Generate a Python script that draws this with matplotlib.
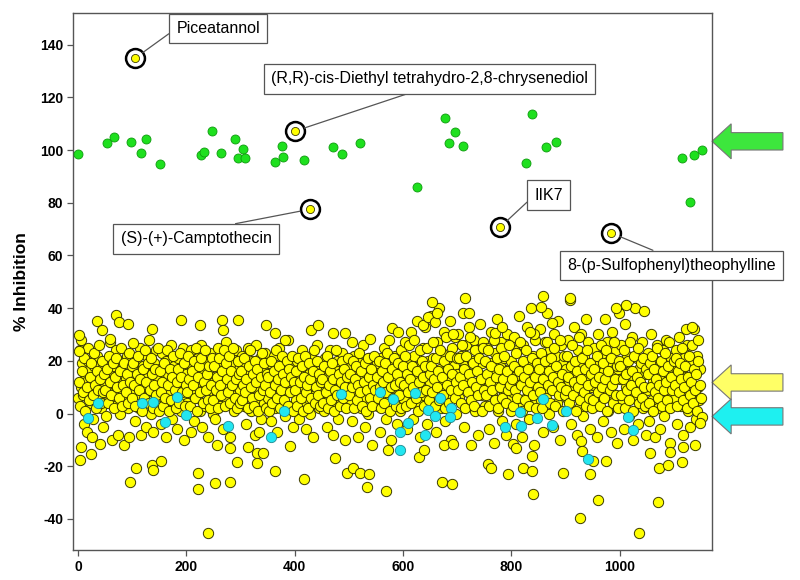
import numpy as np
import matplotlib
matplotlib.use("Agg")
from matplotlib import pyplot as plt
from matplotlib.patches import FancyArrow
from matplotlib.transforms import blended_transform_factory

plt.rcParams['font.family'] = ['Liberation Sans', 'DejaVu Sans']
plt.rcParams['axes.unicode_minus'] = False

# compounds in the main band (yellow), one line per block of ~50 compounds
band_x = [1, 3, 5, 6, 8, 10, 12, 14, 15, 17, 19, 21, 23, 24, 26, 28, 30, 32, 34, 36, 38, 41, 43, 45, 47, 49,
          51, 52, 54, 56, 58, 60, 61, 63, 65, 67, 68, 70, 72, 74, 75, 77, 79, 81, 83, 85, 87, 88, 90, 92, 94, 96, 98,
          101, 103, 105, 107, 108, 110, 112, 114, 116, 117, 119, 121, 123, 125, 127, 128, 130, 132, 134, 136, 138, 140, 142, 144, 146, 148,
          150, 152, 154, 156, 158, 160, 162, 163, 165, 167, 169, 171, 173, 175, 177, 178, 180, 182, 184, 186, 188, 190, 192, 194, 196, 198,
          200, 202, 204, 206, 208, 209, 211, 213, 215, 217, 219, 221, 223, 225, 227, 229, 231, 233, 235, 237, 239, 241, 243, 245, 247, 249,
          251, 253, 255, 257, 259, 261, 263, 265, 267, 268, 270, 272, 274, 276, 278, 280, 282, 284, 286, 288, 290, 292, 294, 296, 298,
          300, 302, 304, 306, 308, 310, 312, 314, 316, 318, 320, 322, 324, 326, 328, 330, 332, 334, 336, 338, 340, 342, 344, 346, 348,
          350, 352, 354, 356, 358, 360, 362, 364, 366, 368, 370, 372, 374, 376, 378, 380, 382, 384, 386, 388, 390, 392, 394, 396, 398,
          400, 402, 404, 406, 408, 410, 412, 414, 416, 418, 420, 422, 424, 426, 428, 430, 432, 434, 436, 438, 440, 442, 444, 446, 448,
          450, 452, 454, 456, 458, 460, 462, 464, 466, 468, 470, 472, 474, 476, 478, 480, 482, 484, 486, 488, 490, 492, 494, 496, 498,
          500, 502, 504, 506, 508, 510, 512, 514, 516, 518, 520, 522, 524, 526, 528, 530, 532, 534, 536, 538, 540, 542, 544, 546, 548,
          550, 552, 554, 556, 558, 560, 562, 564, 566, 568, 570, 572, 574, 576, 578, 580, 582, 584, 586, 588, 590, 592, 594, 596, 598,
          600, 602, 604, 606, 608, 610, 612, 614, 616, 618, 620, 622, 624, 626, 628, 630, 632, 634, 636, 638, 640, 642, 644, 646, 648,
          650, 652, 654, 656, 658, 660, 662, 664, 666, 668, 670, 672, 674, 676, 678, 680, 682, 684, 686, 688, 690, 692, 694, 696, 698,
          700, 702, 704, 706, 708, 710, 712, 714, 716, 718, 720, 722, 724, 726, 728, 730, 732, 734, 736, 738, 740, 742, 744, 746, 748,
          750, 752, 754, 756, 758, 760, 762, 764, 766, 768, 770, 772, 774, 776, 778, 780, 782, 784, 786, 788, 790, 792, 794, 796, 798,
          800, 802, 804, 806, 808, 810, 812, 814, 816, 818, 820, 822, 824, 826, 828, 830, 832, 834, 836, 838, 840, 842, 844, 846, 848,
          850, 852, 854, 856, 858, 860, 862, 864, 866, 868, 870, 872, 874, 876, 878, 880, 882, 884, 886, 888, 890, 892, 894, 896, 898,
          900, 902, 904, 906, 908, 910, 912, 914, 916, 918, 920, 922, 924, 926, 928, 930, 932, 934, 936, 938, 940, 942, 944, 946, 948,
          950, 952, 954, 956, 958, 960, 962, 964, 966, 968, 970, 972, 974, 976, 978, 980, 982, 984, 986, 988, 990, 992, 994, 996, 998,
          1000, 1002, 1004, 1006, 1008, 1010, 1012, 1014, 1016, 1018, 1020, 1022, 1024, 1026, 1028, 1030, 1032, 1034, 1036, 1038, 1040, 1042, 1044, 1046, 1048,
          1050, 1052, 1054, 1056, 1058, 1060, 1062, 1064, 1066, 1068, 1070, 1072, 1074, 1076, 1078, 1080, 1082, 1084, 1086, 1088, 1090, 1092, 1094, 1096, 1098,
          1100, 1102, 1104, 1106, 1108, 1110, 1112, 1114, 1116, 1118, 1120, 1122, 1124, 1126, 1128, 1130, 1132, 1134, 1136, 1138, 1140, 1142, 1144, 1146, 1148]
band_y = [6, 24, 10, 28, 19, 7, -4, 15, 12, -7, 20, 9, 17, 4, 13, -2, 18, 8, 11, 22, 6, 14, 2, 17, -5, 10,
          20, -1, 12, 16, 5, 27, 9, -10, 18, 3, 11, 24, 7, -8, 14, 0, 20, 9, 16, -12, 5, 13, 22, 2, -9, 17, 8,
          14, 8, -3, 20, 11, 16, 2, 25, 7, -8, 13, 18, 10, -5, 22, 5, 15, 28, 0, 12, -7, 19, 9, 24, 3, 13,
          10, 17, -4, 23, 6, 13, -9, 20, 2, 15, 9, 26, -2, 11, 18, 4, 14, -6, 21, 8, 12, 1, 17, 25, -10, 7,
          15, 4, 19, 10, -7, 24, 8, 13, -3, 17, 6, 21, 12, 1, 26, -5, 9, 16, 3, 19, 11, -9, 23, 7, 14, 0,
          12, -2, 18, 7, 25, 14, 3, 20, 9, -6, 16, 11, 27, 5, 15, -9, 22, 8, 13, 1, 19, 24, 6, 10, 17,
          9, 22, 14, 3, 18, -4, 11, 25, 7, 16, 1, 20, 12, -8, 26, 5, 15, 9, 21, -2, 13, 17, 4, 23, 8,
          6, 19, 12, -3, 15, 9, 22, 2, 17, -7, 10, 25, 4, 14, 7, 20, -1, 16, 11, 28, 3, 12, 18, -5, 9,
          14, 5, 20, 10, -2, 17, 8, 24, 3, 12, -6, 19, 6, 15, 0, 22, 11, -9, 16, 7, 13, 26, 2, 9, 18,
          8, 16, 1, 21, 12, -5, 14, 6, 24, 10, -8, 18, 3, 13, 20, -2, 9, 15, 5, 23, 11, -10, 17, 7, 12,
          13, 4, 18, -3, 9, 22, 7, 15, -9, 11, 19, 2, 14, 26, 6, -5, 17, 10, 0, 21, 12, -12, 8, 16, 4,
          10, 19, 3, 14, -7, 21, 8, 25, 12, -2, 16, 6, 28, 11, -10, 18, 4, 13, 22, -4, 9, 15, 1, 24, 7,
          16, 5, 27, 11, -6, 19, 8, 31, 13, -2, 22, 9, 15, 35, 4, 18, -9, 12, 25, 7, 33, 14, -4, 20, 10,
          12, 37, 4, 21, 15, -7, 27, 9, 40, 17, 2, 23, 11, 31, -3, 19, 6, 14, 35, -10, 25, 10, 18, 29, 0,
          15, 30, 6, 22, 11, 38, -5, 18, 26, 3, 13, 33, 9, -12, 20, 28, 1, 16, 24, -8, 12, 34, 7, 19, 27,
          14, 3, 25, 10, -6, 19, 31, 7, 16, -11, 23, 12, 36, 1, 18, 27, -3, 9, 21, 14, -8, 30, 5, 17, 11,
          20, 8, 29, 14, -4, 24, 11, 37, 2, 17, -9, 26, 13, 6, 33, 19, -2, 15, 40, 9, 22, -12, 28, 4, 16,
          12, 32, 5, 21, -7, 16, 27, 9, 38, 14, 0, 24, 18, -5, 30, 10, 22, 4, 35, 15, -10, 26, 8, 19, 13,
          17, 6, 28, 12, 43, -4, 20, 9, 33, 15, -8, 24, 2, 18, 30, 11, -1, 22, 7, 36, 14, 27, -6, 19, 10,
          11, 25, 3, 18, -9, 30, 14, 7, 22, -3, 16, 36, 9, 27, 1, 20, 12, -7, 31, 15, 5, 24, -11, 17, 38,
          13, 26, 4, 19, -6, 34, 10, 22, -1, 16, 8, 29, -10, 14, 40, 6, 21, -4, 17, 11, 27, 2, 39, 15, -8,
          9, 23, -3, 16, 30, 5, 12, -9, 20, 26, 2, 14, -6, 18, 8, 24, -1, 11, 28, 4, 15, -11, 21, 7, 13,
          18, 6, 24, -4, 12, 29, 3, 16, -8, 21, 9, 14, 26, 1, 11, -5, 19, 7, 32, 15, -2, 22, 10, 5, 17]

# second pass through the dense core of the band
core_x = [2, 4, 7, 9, 11, 13, 16, 18, 20, 22, 25, 27, 29, 31, 33, 35, 37, 39, 40, 42, 44, 46, 48,
          50, 53, 55, 57, 59, 62, 64, 66, 69, 71, 73, 76, 78, 80, 82, 84, 86, 89, 91, 93, 95, 97, 99,
          100, 102, 104, 106, 109, 111, 113, 115, 118, 120, 122, 124, 126, 129, 131, 133, 135, 137, 139, 141, 143, 145, 147, 149,
          151, 153, 155, 157, 159, 161, 164, 166, 168, 170, 172, 174, 176, 179, 181, 183, 185, 187, 189, 191, 193, 195, 197, 199,
          201, 203, 205, 207, 210, 212, 214, 216, 218, 220, 222, 224, 226, 228, 230, 232, 234, 236, 238, 240, 242, 244, 246, 248,
          250, 252, 254, 256, 258, 260, 262, 264, 266, 269, 271, 273, 275, 277, 279, 281, 283, 285, 287, 289, 291, 293, 295, 297, 299,
          301, 303, 305, 307, 309, 311, 313, 315, 317, 319, 321, 323, 325, 327, 329, 331, 333, 335, 337, 339, 341, 343, 345, 347, 349,
          351, 353, 355, 357, 359, 361, 363, 365, 367, 369, 371, 373, 375, 377, 379, 381, 383, 385, 387, 389, 391, 393, 395, 397, 399,
          401, 403, 405, 407, 409, 411, 413, 415, 417, 419, 421, 423, 425, 427, 429, 431, 433, 435, 437, 439, 441, 443, 445, 447, 449,
          451, 453, 455, 457, 459, 461, 463, 465, 467, 469, 471, 473, 475, 477, 479, 481, 483, 485, 487, 489, 491, 493, 495, 497, 499,
          501, 503, 505, 507, 509, 511, 513, 515, 517, 519, 521, 523, 525, 527, 529, 531, 533, 535, 537, 539, 541, 543, 545, 547, 549,
          551, 553, 555, 557, 559, 561, 563, 565, 567, 569, 571, 573, 575, 577, 579, 581, 583, 585, 587, 589, 591, 593, 595, 597, 599,
          601, 603, 605, 607, 609, 611, 613, 615, 617, 619, 621, 623, 625, 627, 629, 631, 633, 635, 637, 639, 641, 643, 645, 647, 649,
          651, 653, 655, 657, 659, 661, 663, 665, 667, 669, 671, 673, 675, 677, 679, 681, 683, 685, 687, 689, 691, 693, 695, 697, 699,
          701, 703, 705, 707, 709, 711, 713, 715, 717, 719, 721, 723, 725, 727, 729, 731, 733, 735, 737, 739, 741, 743, 745, 747, 749,
          751, 753, 755, 757, 759, 761, 763, 765, 767, 769, 771, 773, 775, 777, 779, 781, 783, 785, 787, 789, 791, 793, 795, 797, 799,
          801, 803, 805, 807, 809, 811, 813, 815, 817, 819, 821, 823, 825, 827, 829, 831, 833, 835, 837, 839, 841, 843, 845, 847, 849,
          851, 853, 855, 857, 859, 861, 863, 865, 867, 869, 871, 873, 875, 877, 879, 881, 883, 885, 887, 889, 891, 893, 895, 897, 899,
          901, 903, 905, 907, 909, 911, 913, 915, 917, 919, 921, 923, 925, 927, 929, 931, 933, 935, 937, 939, 941, 943, 945, 947, 949,
          951, 953, 955, 957, 959, 961, 963, 965, 967, 969, 971, 973, 975, 977, 979, 981, 983, 985, 987, 989, 991, 993, 995, 997, 999,
          1001, 1003, 1005, 1007, 1009, 1011, 1013, 1015, 1017, 1019, 1021, 1023, 1025, 1027, 1029, 1031, 1033, 1035, 1037, 1039, 1041, 1043, 1045, 1047, 1049,
          1051, 1053, 1055, 1057, 1059, 1061, 1063, 1065, 1067, 1069, 1071, 1073, 1075, 1077, 1079, 1081, 1083, 1085, 1087, 1089, 1091, 1093, 1095, 1097, 1099,
          1101, 1103, 1105, 1107, 1109, 1111, 1113, 1115, 1117, 1119, 1121, 1123, 1125, 1127, 1129, 1131, 1133, 1135, 1137, 1139, 1141, 1143, 1145, 1147, 1149]
core_y = [12, 3, 16, 8, 21, 1, 10, 25, 5, 14, 19, 7, 23, 11, 2, 16, 9, 26, 13, 4, 20, 8, 15,
          9, 17, 4, 22, 12, 7, 19, 2, 14, 21, 10, 6, 16, 25, 3, 11, 19, 8, 15, 4, 23, 12, 18,
          6, 19, 11, 3, 15, 22, 9, 13, 1, 17, 6, 24, 12, 19, 4, 9, 21, 15, 2, 11, 17, 7, 25, 1,
          16, 8, 12, 3, 19, 6, 24, 11, 1, 17, 5, 14, 22, 9, 2, 12, 17, 4, 23, 14, 8, 19, 3, 11,
          8, 22, 13, 3, 16, 11, 20, 6, 25, 1, 14, 18, 8, 21, 4, 12, 24, 9, 15, 5, 18, 2, 11, 21,
          5, 18, 9, 14, 2, 21, 11, 7, 16, 24, 3, 19, 13, 8, 22, 4, 16, 11, 25, 6, 13, 2, 20, 15, 4,
          16, 5, 11, 21, 8, 13, 2, 18, 24, 10, 6, 15, 3, 20, 12, 17, 1, 7, 14, 23, 9, 19, 11, 2, 15,
          14, 1, 8, 20, 4, 16, 11, 24, 6, 13, 18, 2, 9, 22, 15, 5, 12, 20, 3, 17, 8, 14, 22, 1, 12,
          9, 16, 3, 21, 12, 6, 18, 1, 14, 22, 8, 11, 2, 19, 13, 6, 16, 24, 4, 10, 20, 7, 15, 3, 12,
          13, 4, 18, 8, 22, 2, 11, 16, 5, 19, 13, 1, 9, 24, 7, 15, 3, 12, 20, 6, 17, 10, 2, 14, 21,
          7, 15, 10, 20, 2, 13, 18, 5, 11, 23, 8, 16, 3, 12, 19, 1, 9, 21, 14, 6, 17, 3, 11, 22, 9,
          14, 6, 20, 10, 2, 16, 12, 4, 19, 8, 23, 14, 1, 10, 17, 6, 21, 11, 3, 15, 19, 7, 12, 2, 18,
          11, 22, 3, 15, 8, 26, 13, 4, 18, 10, 28, 6, 16, 1, 12, 24, 8, 20, 14, 3, 18, 9, 25, 5, 15,
          18, 8, 27, 13, 3, 21, 10, 16, 5, 24, 14, 7, 20, 2, 29, 11, 17, 4, 22, 9, 15, 30, 6, 12, 21,
          9, 21, 14, 4, 26, 11, 17, 2, 22, 8, 15, 29, 5, 12, 19, 3, 24, 10, 16, 7, 21, 13, 1, 25, 9,
          20, 7, 15, 24, 3, 12, 18, 9, 28, 5, 14, 21, 2, 17, 10, 25, 6, 13, 22, 4, 16, 9, 26, 11, 1,
          13, 3, 18, 9, 23, 6, 16, 27, 11, 1, 20, 14, 5, 24, 9, 17, 3, 12, 21, 7, 30, 14, 2, 19, 10,
          17, 8, 23, 2, 13, 20, 6, 27, 11, 16, 4, 21, 9, 14, 25, 3, 18, 12, 7, 28, 10, 15, 1, 22, 7,
          9, 22, 14, 4, 18, 26, 7, 12, 20, 1, 16, 10, 29, 5, 13, 21, 8, 17, 3, 24, 11, 6, 19, 15, 2,
          5, 17, 12, 22, 8, 14, 3, 26, 10, 19, 6, 13, 24, 1, 16, 9, 21, 11, 4, 27, 13, 7, 18, 2, 20,
          18, 7, 13, 24, 2, 15, 9, 20, 5, 27, 11, 16, 1, 22, 8, 14, 25, 4, 12, 19, 6, 21, 10, 3, 17,
          15, 4, 19, 10, 22, 1, 17, 8, 13, 25, 6, 11, 20, 3, 16, 9, 23, 12, 5, 18, 27, 2, 14, 9, 20,
          11, 21, 3, 16, 8, 19, 13, 25, 5, 10, 18, 2, 14, 22, 7, 12, 26, 4, 17, 9, 15, 1, 20, 11, 6]

# scattered yellow compounds above and below the band
high_x = [2, 2, 36, 44, 59, 71, 76, 93, 101, 136, 191, 225, 265, 267, 296, 347, 363, 382, 430, 443,
          471, 493, 505, 539, 579, 591, 637, 646, 654, 659, 663, 715, 721, 769, 783, 834, 854, 858,
          874, 908, 993, 1011, 1122, 1133, 1145]
high_y = [29.8, 23.7, 35, 31.7, 28.2, 37.4, 34.8, 33.8, 26.9, 32, 35.5, 33.6, 35.5, 31.7, 35.5, 33.6,
          30.4, 27.9, 31.7, 33.6, 30.4, 30.7, 27.3, 28.2, 32.3, 31, 33.6, 36.7, 42.3, 34.8, 38, 44, 38,
          30.4, 33, 31, 40.3, 44.6, 34.2, 43.8, 40, 41, 32, 33, 28]
low_x = [4, 6, 25, 26, 41, 96, 108, 136, 138, 154, 221, 222, 240, 253, 257, 280, 280, 293, 314, 330,
         331, 342, 335, 363, 391, 417, 474, 496, 508, 520, 537, 533, 568, 572, 629, 639, 671, 690, 676,
         693, 756, 763, 793, 803, 809, 822, 838, 838, 840, 896, 926, 929, 930, 945, 951, 960, 975, 1035,
         1055, 1071, 1073, 1089, 1115, 1092, 1117, 1138, 1151, 1148]
low_y = [-17.6, -12.8, -15.4, -8.8, -11.6, -25.9, -20.8, -19.5, -21.5, -17.9, -28.7, -22.7, -45.5, -26.5,
         -12, -25.9, -13, -18.3, -12.6, -15.1, -18.9, -15, -6.9, -22, -12.3, -25, -17, -22.7, -20.8, -22.7,
         -23, -28, -29.4, -13.9, -16.4, -13.9, -25.9, -26.8, -12, -11.6, -19.2, -20.8, -23, -11.6, -13.2,
         -20.6, -21.7, -16.1, -30.5, -22.7, -39.5, -10.4, -14.1, -23, -18, -32.8, -17.9, -45.5, -15.1,
         -33.6, -20.6, -19.5, -18.3, -14.5, -12.6, -12, -1.2, -3.7]

# cyan compounds
cyan_x = [19, 38, 118, 138, 160, 182, 200, 277, 357, 380, 486, 557, 582, 594, 594, 609, 622, 640, 646,
          659, 668, 688, 686, 788, 815, 817, 848, 858, 874, 900, 941, 1015, 1025]
cyan_y = [-1.8, 4.1, 4.1, 4.5, -3.3, 6.1, -0.6, -4.6, -8.8, 1, 7.4, 8.3, 5.4, -6.9, -13.9, -3.7, 7.7,
          -8.2, 1.3, -1, 5.8, 2, -1.2, -5, 0.7, -4.6, -1.6, 5.6, -4.4, 0.9, -17.4, -1.5, -6.3]

# green compounds (~100 % inhibition)
green_x = [1, 53, 67, 98, 117, 126, 152, 248, 228, 233, 264, 290, 305, 296, 308, 376, 378, 364, 417,
           471, 488, 520, 677, 696, 684, 711, 626, 838, 863, 882, 827, 1114, 1137, 1151, 1130]
green_y = [98.4, 102.7, 105, 102.9, 99, 104.3, 94.8, 107.2, 98.1, 99.2, 98.9, 104, 100.4, 96.8, 97.1,
           101.6, 97.5, 95.4, 96.1, 101, 98.4, 102.7, 112, 106.7, 102.7, 101.6, 86, 113.7, 101.3, 103.2,
           95.2, 97, 98.2, 100.1, 80.3]

# labelled hits
hit_names = ['Piceatannol', '(R,R)-cis-Diethyl tetrahydro-2,8-chrysenediol', '(S)-(+)-Camptothecin',
             'IIK7', '8-(p-Sulfophenyl)theophylline']
hit_x = [105, 401, 428, 779, 983]
hit_y = [134.8, 107.2, 77.5, 70.7, 68.6]
label_x = [259, 649, 218, 869, 1095]
label_y = [146.2, 127, 66.3, 82.9, 56.2]
label_anchor = [(0, 0.5), (0.5, 0), (0.5, 1), (0, 0.5), (0.5, 1)]

# side arrows: class level and colour
arrow_levels = [103.3, 11.8, -1.1]
arrow_colors = ['#3de63d', '#ffff66', '#1ef0f0']

fig = plt.figure(figsize=(8, 5.8), dpi=100)
ax = fig.add_axes([0.09125, 0.0517, 0.79875, 0.9259])

yellow_x = band_x + core_x + high_x + low_x
yellow_y = band_y + core_y + high_y + low_y
ax.scatter(yellow_x, yellow_y, s=55, c='#ffff00', edgecolors='#3a3a00', linewidths=0.7, zorder=3)
ax.scatter(cyan_x, cyan_y, s=55, c='#22e6f0', edgecolors='#208a90', linewidths=0.6, zorder=4)
ax.scatter(green_x, green_y, s=42, c='#1ee01e', edgecolors='#0f9a0f', linewidths=0.6, zorder=3)

ax.scatter(hit_x, hit_y, s=185, facecolors='white', edgecolors='black', linewidths=1.8, zorder=5)
ax.scatter(hit_x, hit_y, s=34, c='#ffff00', edgecolors='#3a3a00', linewidths=0.6, zorder=6)

for name, hx, hy, lx, ly, rp in zip(hit_names, hit_x, hit_y, label_x, label_y, label_anchor):
    ax.annotate(name, xy=(hx, hy), xytext=(lx, ly), ha='center', va='center', fontsize=11.5,
                bbox=dict(boxstyle='square,pad=0.45', fc='white', ec='#555555', lw=0.9),
                arrowprops=dict(arrowstyle='-', color='#555555', lw=0.9, shrinkA=0, shrinkB=7,
                                relpos=rp),
                annotation_clip=False, zorder=7)

trans = blended_transform_factory(ax.transAxes, ax.transData)
for lvl, col in zip(arrow_levels, arrow_colors):
    arr = FancyArrow(1.111, lvl, -0.111, 0, width=6.6, head_width=13.3, head_length=0.03,
                     length_includes_head=True, transform=trans, clip_on=False,
                     fc=col, ec='#777777', lw=0.8)
    ax.add_patch(arr)

ax.set_xlim(-9, 1170)
ax.set_ylim(-51.8, 152)
ax.set_xticks([0, 200, 400, 600, 800, 1000])
ax.set_yticks([-40, -20, 0, 20, 40, 60, 80, 100, 120, 140])
for lab in ax.get_xticklabels() + ax.get_yticklabels():
    lab.set_fontweight('bold')
    lab.set_fontsize(10)
ax.tick_params(direction='out', length=4, width=0.9, color='#555555', pad=3)
for sp in ax.spines.values():
    sp.set_color('#555555')
    sp.set_linewidth(1)
ax.set_ylabel('% Inhibition', fontsize=12.5, fontweight='bold', labelpad=8)

plt.savefig('out.png', dpi=100)
